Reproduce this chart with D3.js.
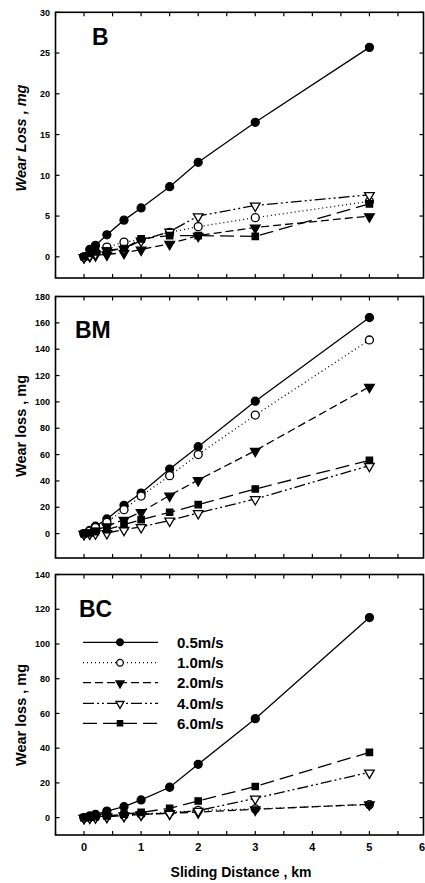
<!DOCTYPE html>
<html><head><meta charset="utf-8">
<script src="https://cdn.jsdelivr.net/npm/d3@7"></script>
<style>
html,body{margin:0;padding:0;background:#fff;}
svg{display:block;font-family:"Liberation Sans",Arial,sans-serif;}
</style></head>
<body><svg id="c" width="425" height="883"></svg>
<script>
// ---- data ----
const distance = [0, 0.1, 0.2, 0.4, 0.7, 1, 1.5, 2, 3, 5];
const speeds = ["0.5m/s", "1.0m/s", "2.0m/s", "4.0m/s", "6.0m/s"];

const B_05 = [0, 0.9, 1.4, 2.7, 4.5, 6.0, 8.6, 11.6, 16.5, 25.7];
const B_10 = [0, 0.3, 0.6, 1.2, 1.8, 2.1, 3.0, 3.7, 4.8, 6.8];
const B_20 = [0, 0.1, 0.2, 0.3, 0.5, 0.9, 1.6, 2.6, 3.6, 5.0];
const B_40 = [0, 0.2, 0.4, 0.8, 1.0, 2.0, 3.1, 5.0, 6.3, 7.6];
const B_60 = [0, 0.4, 0.6, 0.7, 1.0, 2.2, 2.6, 2.6, 2.5, 6.5];

const BM_05 = [0, 2.5, 5.6, 11.1, 21.5, 30.8, 49.0, 66.0, 100.5, 164.0];
const BM_10 = [0, 2.0, 4.5, 8.6, 18.2, 28.5, 44.0, 60.0, 90.0, 147.0];
const BM_20 = [0, 1.0, 2.5, 5.6, 10.6, 16.4, 29.0, 40.7, 63.0, 111.5];
const BM_40 = [0, 0.2, 0.3, 0.5, 3.0, 5.1, 10.0, 15.7, 26.3, 51.6];
const BM_60 = [0, 0.5, 1.5, 3.0, 6.8, 10.6, 16.2, 22.0, 33.9, 55.6];

const BC_05 = [0, 1.0, 1.9, 3.8, 6.3, 10.2, 17.5, 30.7, 57.0, 115.2];
const BC_10 = [0, 0.2, 0.4, 0.8, 1.2, 2.0, 3.0, 4.2, 5.0, 7.5];
const BC_20 = [0, 0.3, 0.6, 0.9, 1.3, 1.9, 2.5, 3.2, 4.8, 7.7];
const BC_40 = [0, 0.2, 0.3, 0.6, 1.2, 2.0, 2.5, 4.0, 11.1, 26.1];
const BC_60 = [0, 0.2, 0.5, 1.0, 2.0, 3.0, 5.4, 9.6, 17.9, 37.6];

const xTicks = [0, 1, 2, 3, 4, 5, 6];
const yTicksB = [0, 5, 10, 15, 20, 25, 30];
const yTicksBM = [0, 20, 40, 60, 80, 100, 120, 140, 160, 180];
const yTicksBC = [0, 20, 40, 60, 80, 100, 120, 140];

// ---- styles per series ----
const styles = [
  {dash: null, marker: "circle", fill: "#000"},
  {dash: "1,3", marker: "circle", fill: "#fff"},
  {dash: "8,4", marker: "tri", fill: "#000"},
  {dash: "11,3,2,3,2,3", marker: "tri", fill: "#fff"},
  {dash: "14,6", marker: "square", fill: "#000"}
];

const panels = [
  {name: "B", series: [B_05, B_10, B_20, B_40, B_60], yDom: [-2.6, 30], top: 12.3, bottom: 278,
   ticks: yTicksB, ylab: "Wear Loss , mg", italic: true, lab: [92, 45], ytitleY: 138},
  {name: "BM", series: [BM_05, BM_10, BM_20, BM_40, BM_60], yDom: [-18.5, 180], top: 296.5, bottom: 558,
   ticks: yTicksBM, ylab: "Wear loss , mg", italic: false, lab: [75, 338], ytitleY: 426},
  {name: "BC", series: [BC_05, BC_10, BC_20, BC_40, BC_60], yDom: [-10, 140], top: 574.5, bottom: 835,
   ticks: yTicksBC, ylab: "Wear loss , mg", italic: false, lab: [79, 617], ytitleY: 715}
];

const svg = d3.select("#c");
const x = d3.scaleLinear().domain([-0.5, 6]).range([55.5, 426.5]);
const xMinor = d3.range(-0.5, 6.01, 0.5);

function symGen(type, size) { return d3.symbol().type(type).size(size)(); }
const symSize = {circle: 50, tri: 40, square: 40};
const typeOf = {circle: d3.symbolCircle, tri: d3.symbolTriangle, square: d3.symbolSquare};

function marker(g, st, px, py, scale) {
  const k = scale || 1;
  const p = g.append("path").attr("d", symGen(typeOf[st.marker], symSize[st.marker] * k))
    .attr("fill", st.fill).attr("stroke", "#000").attr("stroke-width", 1.3);
  if (st.marker === "tri") p.attr("transform", `translate(${px},${py + 0.5}) rotate(180)`);
  else p.attr("transform", `translate(${px},${py})`);
}

panels.forEach((P, pi) => {
  const y = d3.scaleLinear().domain(P.yDom).range([P.bottom, P.top]);
  const g = svg.append("g");
  const right = 423.5;

  const tl = 4;
  xMinor.forEach(v => {
    if (x(v) > right) return;
    g.append("line").attr("x1", x(v)).attr("x2", x(v)).attr("y1", P.bottom).attr("y2", P.bottom - tl)
      .attr("stroke", "#000").attr("stroke-width", 1.2);
    g.append("line").attr("x1", x(v)).attr("x2", x(v)).attr("y1", P.top).attr("y2", P.top + tl)
      .attr("stroke", "#000").attr("stroke-width", 1.2);
  });
  P.ticks.forEach(v => {
    g.append("line").attr("x1", x.range()[0]).attr("x2", x.range()[0] + tl).attr("y1", y(v)).attr("y2", y(v))
      .attr("stroke", "#000").attr("stroke-width", 1.2);
    g.append("line").attr("x1", right).attr("x2", right - tl).attr("y1", y(v)).attr("y2", y(v))
      .attr("stroke", "#000").attr("stroke-width", 1.2);
    g.append("text").attr("x", 50).attr("y", y(v) + 3.2).attr("text-anchor", "end")
      .attr("font-size", 9).attr("font-weight", "bold").text(v);
  });

  g.append("rect").attr("x", x.range()[0]).attr("y", P.top)
    .attr("width", right - x.range()[0]).attr("height", P.bottom - P.top)
    .attr("fill", "none").attr("stroke", "#000").attr("stroke-width", 1.6);

  P.series.forEach((vals, si) => {
    const st = styles[si];
    const line = d3.line().x((d, i) => x(distance[i])).y(d => y(d));
    const path = g.append("path").datum(vals).attr("d", line)
      .attr("fill", "none").attr("stroke", "#000").attr("stroke-width", 1.3);
    if (st.dash) path.attr("stroke-dasharray", st.dash);
  });
  P.series.forEach((vals, si) => {
    vals.forEach((v, i) => marker(g, styles[si], x(distance[i]), y(v)));
  });

  g.append("text").attr("x", P.lab[0]).attr("y", P.lab[1]).attr("font-size", 23)
    .attr("font-weight", "bold").text(P.name);

  g.append("text").attr("transform", `translate(26,${P.ytitleY}) rotate(-90)`)
    .attr("text-anchor", "middle").attr("font-size", 14.5).attr("font-weight", "bold")
    .attr("font-style", P.italic ? "italic" : "normal").text(P.ylab);

  if (pi === 2) {
    xTicks.forEach(v => {
      const last = v === 6;
      g.append("text").attr("x", last ? 425 : x(v)).attr("y", 851)
        .attr("text-anchor", last ? "end" : "middle")
        .attr("font-size", 11).attr("font-weight", "bold").text(v);
    });
    const rows = [642.3, 662.7, 682.7, 703.3, 723.3];
    speeds.forEach((s, si) => {
      const st = styles[si];
      const l = g.append("line").attr("x1", 83).attr("x2", 158).attr("y1", rows[si]).attr("y2", rows[si])
        .attr("stroke", "#000").attr("stroke-width", 1.3);
      if (st.dash) l.attr("stroke-dasharray", st.dash);
      marker(g, st, 120, rows[si], 0.7);
      g.append("text").attr("x", 177).attr("y", rows[si] + 5.5).attr("font-size", 15)
        .attr("font-weight", "bold").text(s);
    });
  }
});

svg.append("text").attr("x", 241).attr("y", 877).attr("text-anchor", "middle")
  .attr("font-size", 14).attr("font-weight", "bold").text("Sliding Distance , km");
</script>
</body></html>
